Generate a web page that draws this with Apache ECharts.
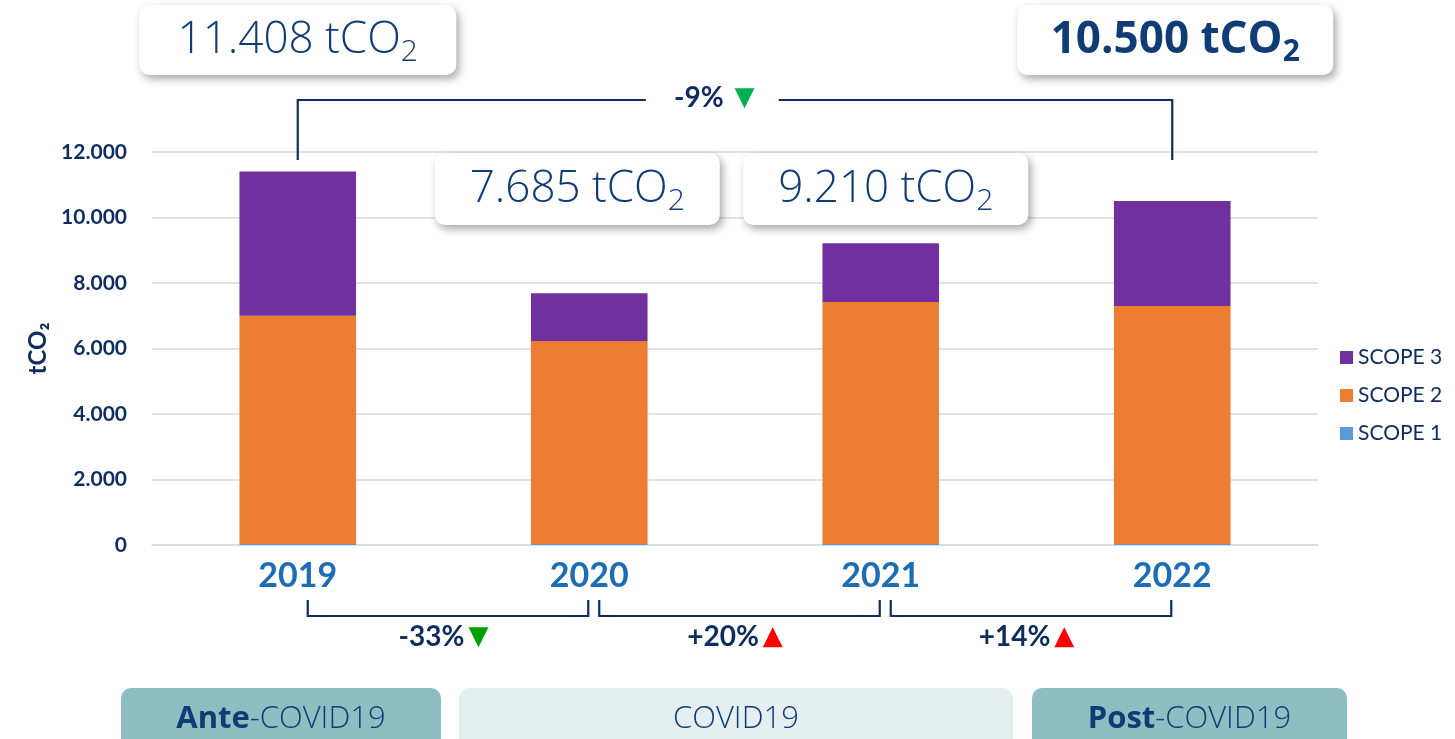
<!DOCTYPE html>
<html>
<head>
<meta charset="utf-8">
<script src="https://cdn.jsdelivr.net/npm/echarts@6/dist/echarts.min.js"></script>
<style>
  html, body { margin: 0; padding: 0; background: #fff; }
  #main { width: 1455px; height: 739px; }
</style>
</head>
<body>
<div id="main"></div>
<script>
// data
const years = ['2019', '2020', '2021', '2022'];
const totals = [11408, 7685, 9210, 10500];
const scope1 = [30, 30, 30, 30];
const scope2 = [6970, 6200, 7390, 7270];
const scope3 = totals.map((t, i) => t - scope1[i] - scope2[i]);
const yTicks = [0, 2000, 4000, 6000, 8000, 10000, 12000];
const changes = ['-33%', '+20%', '+14%'];
const overall = '-9%';

const navy = '#0d2c5f';
const boxText = '#0f3c75';
const green = '#00a000';
const red = '#ff0000';

const fmt = (v) => v.toLocaleString('de-DE');

const chart = echarts.init(document.getElementById('main'));

const option = {
  animation: false,
  grid: { left: 152, right: 137, top: 152, bottom: 194 },
  legend: {
    orient: 'vertical',
    left: 1340,
    top: 347,
    padding: 0,
    itemWidth: 13,
    itemHeight: 13,
    itemGap: 17,
    icon: 'rect',
    data: ['SCOPE 3', 'SCOPE 2', 'SCOPE 1'],
    textStyle: { color: navy, fontSize: 21, fontFamily: 'Lato' }
  },
  xAxis: {
    type: 'category',
    data: years,
    axisTick: { show: false },
    axisLine: { lineStyle: { color: '#d9d9d9', width: 1.5 } },
    axisLabel: {
      color: '#1c6db5',
      fontSize: 34,
      fontWeight: 'bold',
      fontFamily: 'Lato',
      margin: 14
    }
  },
  yAxis: {
    type: 'value',
    min: 0,
    max: 12000,
    interval: 2000,
    name: 'tCO₂',
    nameLocation: 'middle',
    nameGap: 100,
    nameRotate: 90,
    nameTextStyle: { color: navy, fontSize: 24, fontWeight: 'bold', fontFamily: 'Lato' },
    axisLabel: {
      color: navy,
      fontSize: 21,
      fontWeight: 'bold',
      fontFamily: 'Lato',
      margin: 25,
      formatter: (v) => yTicks.includes(v) ? fmt(v) : ''
    },
    splitLine: { lineStyle: { color: '#d9d9d9', width: 1.5 } }
  },
  series: [
    { name: 'SCOPE 1', type: 'bar', stack: 'co2', data: scope1, barWidth: '40%', itemStyle: { color: '#5b9bd5' } },
    { name: 'SCOPE 2', type: 'bar', stack: 'co2', data: scope2, itemStyle: { color: '#ed7d31' } },
    { name: 'SCOPE 3', type: 'bar', stack: 'co2', data: scope3, itemStyle: { color: '#7030a0' } }
  ]
};

chart.setOption(option);

// annotations placed relative to the category centres
const cx = years.map((y) => chart.convertToPixel({ gridIndex: 0 }, [y, 0])[0]);

const boxRich = (bold) => ({
  n: { fontSize: 44, fontFamily: 'Open Sans', fontWeight: bold ? 'bold' : 300, fill: boxText },
  s: { fontSize: 30, fontFamily: 'Open Sans', fontWeight: bold ? 'bold' : 300, fill: boxText, padding: [24, 0, 0, 0] }
});

function totalBox(i, x, y, w, h, bold) {
  return {
    type: 'group',
    children: [
      {
        type: 'rect',
        shape: { x: x - w / 2, y: y, width: w, height: h, r: 10 },
        style: { fill: '#fff', shadowBlur: 8, shadowOffsetX: 3, shadowOffsetY: 4, shadowColor: 'rgba(0,0,0,0.35)' }
      },
      {
        type: 'text',
        x: x, y: y + h / 2,
        style: {
          text: '{n|' + fmt(totals[i]) + ' tCO}{s|2}',
          rich: boxRich(bold),
          align: 'center', verticalAlign: 'middle'
        }
      }
    ]
  };
}

const lineStyle = { stroke: navy, lineWidth: 2.2, fill: null };
const pctRich = {
  t: { fontSize: 28, fontWeight: 'bold', fontFamily: 'Lato', fill: navy, padding: [0, 4, 0, 0] },
  dn: { fontSize: 26, fontFamily: 'DejaVu Sans', fill: green },
  up: { fontSize: 26, fontFamily: 'DejaVu Sans', fill: red }
};

const graphics = [];

// top bracket 2019 -> 2022
const gapL = cx[0] + (cx[3] - cx[0]) * 0.398;
const gapR = cx[0] + (cx[3] - cx[0]) * 0.55;
graphics.push({ type: 'polyline', shape: { points: [[cx[0], 160], [cx[0], 100], [gapL, 100]] }, style: lineStyle });
graphics.push({ type: 'polyline', shape: { points: [[gapR, 100], [cx[3], 100], [cx[3], 160]] }, style: lineStyle });
graphics.push({
  type: 'text', x: (gapL + gapR) / 2 + 2, y: 98,
  style: {
    text: '{t|' + overall + '}  {dn|▼}',
    rich: { t: pctRich.t, dn: { fontSize: 26, fontFamily: 'DejaVu Sans', fill: '#00b050' } },
    align: 'center', verticalAlign: 'middle'
  }
});

// year-on-year brackets
for (let i = 0; i < 3; i++) {
  const a = cx[i] + 10, b = cx[i + 1] - 1;
  graphics.push({ type: 'polyline', shape: { points: [[a, 600], [a, 616], [b, 616], [b, 600]] }, style: lineStyle });
  const up = changes[i].startsWith('+');
  graphics.push({
    type: 'text', x: (cx[i] + cx[i + 1]) / 2, y: 637,
    style: { text: '{t|' + changes[i] + '}{' + (up ? 'up' : 'dn') + '|' + (up ? '▲' : '▼') + '}', rich: pctRich, align: 'center', verticalAlign: 'middle' }
  });
}

// total boxes
graphics.push(totalBox(0, cx[0], 5, 317, 70, false));
graphics.push(totalBox(3, cx[3] + 3, 5, 316, 70, true));
graphics.push(totalBox(1, cx[1] - 12, 153, 285, 72, false));
graphics.push(totalBox(2, cx[2] + 5, 153, 285, 72, false));

// period banners
const banners = [
  { x: 121, w: 320, fill: '#8fbec2', label: '{b|Ante}{r|-COVID19}' },
  { x: 459, w: 554, fill: '#e6eff0', label: '{r|COVID19}' },
  { x: 1032, w: 315, fill: '#8fbec2', label: '{b|Post}{r|-COVID19}' }
];
const bannerRich = {
  b: { fontSize: 31, fontWeight: 'bold', fontFamily: 'Open Sans', fill: boxText },
  r: { fontSize: 31, fontWeight: 300, fontFamily: 'Open Sans', fill: boxText }
};
banners.forEach((bn) => {
  graphics.push({ type: 'rect', shape: { x: bn.x, y: 688, width: bn.w, height: 70, r: [10, 10, 0, 0] }, style: { fill: bn.fill } });
  graphics.push({ type: 'text', x: bn.x + bn.w / 2, y: 719, style: { text: bn.label, rich: bannerRich, align: 'center', verticalAlign: 'middle' } });
});

chart.setOption({ graphic: graphics });
</script>
</body>
</html>
